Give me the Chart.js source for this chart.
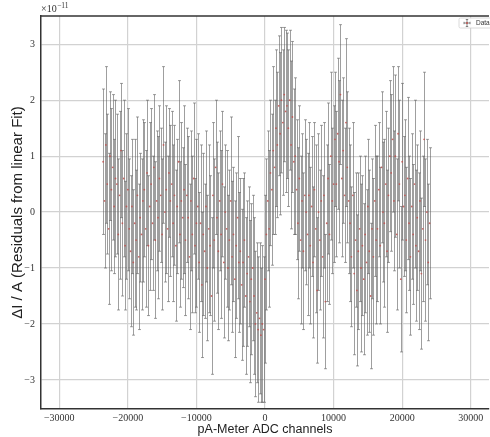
<!DOCTYPE html>
<html>
<head>
<meta charset="utf-8">
<script src="https://cdn.jsdelivr.net/npm/chart.js@4/dist/chart.umd.min.js"></script>
<style>
  html, body { margin: 0; padding: 0; background: #fff; overflow: hidden; width: 490px; height: 437px; }
  #wrap { width: 493px; height: 437px; }
</style>
</head>
<body>
<div id="wrap"><canvas id="grafico" width="493" height="437"></canvas></div>
<script>
// canales del ADC
const canales = [
  -23600,-23400,-23200,-23000,-22800,-22600,-22400,-22200,-22000,-21800,
  -21600,-21400,-21200,-21000,-20800,-20600,-20400,-20200,-20000,-19800,
  -19600,-19400,-19200,-19000,-18800,-18600,-18400,-18200,-18000,-17800,
  -17600,-17400,-17200,-17000,-16800,-16600,-16400,-16200,-16000,-15800,
  -15600,-15400,-15200,-15000,-14800,-14600,-14400,-14200,-14000,-13800,
  -13600,-13400,-13200,-13000,-12800,-12600,-12400,-12200,-12000,-11800,
  -11600,-11400,-11200,-11000,-10800,-10600,-10400,-10200,-10000,-9800,
  -9600,-9400,-9200,-9000,-8800,-8600,-8400,-8200,-8000,-7800,
  -7600,-7400,-7200,-7000,-6800,-6600,-6400,-6200,-6000,-5800,
  -5600,-5400,-5200,-5000,-4800,-4600,-4400,-4200,-4000,-3800,
  -3600,-3400,-3200,-3000,-2800,-2600,-2400,-2200,-2000,-1800,
  -1600,-1400,-1200,-1000,-800,-600,-400,-200,0,200,
  400,600,800,1000,1200,1400,1600,1800,2000,2200,
  2400,2600,2800,3000,3200,3400,3600,3800,4000,4200,
  4400,4600,4800,5000,5200,5400,5600,5800,6000,6200,
  6400,6600,6800,7000,7200,7400,7600,7800,8000,8200,
  8400,8600,8800,9000,9200,9400,9600,9800,10000,10200,
  10400,10600,10800,11000,11200,11400,11600,11800,12000,12200,
  12400,12600,12800,13000,13200,13400,13600,13800,14000,14200,
  14400,14600,14800,15000,15200,15400,15600,15800,16000,16200,
  16400,16600,16800,17000,17200,17400,17600,17800,18000,18200,
  18400,18600,18800,19000,19200,19400,19600,19800,20000,20200,
  20400,20600,20800,21000,21200,21400,21600,21800,22000,22200,
  22400,22600,22800,23000,23200,23400,23600,23800,24000
];

// residuos (x 1e-11)
const residuos = [
  0.9,0.2,1.2,0.5,-0.3,1.0,0.4,0.8,0.1,0.6,
  0.5,-0.4,0.3,1.1,-0.2,0.6,-0.6,0.1,0.4,-0.3,
  -0.7,0.1,-0.9,-0.2,-0.5,0.3,-0.8,-0.1,-0.4,0.2,
  0.4,-0.3,0.7,-0.6,0.1,0.5,-0.2,0.8,-0.5,0.2,
  -0.1,0.6,0.3,-0.4,1.2,0.0,0.4,-0.3,0.7,0.2,
  0.5,-0.2,0.3,-0.6,0.1,0.9,-0.4,0.2,-0.1,0.4,
  -0.5,0.3,-0.1,-0.8,0.2,-0.4,0.6,-0.6,-0.2,0.1,
  -0.9,-0.2,-1.3,-0.4,-0.7,0.1,-1.0,-0.3,-0.6,-1.5,
  0.3,-0.5,0.8,-0.1,-0.7,0.2,-0.4,0.5,-0.9,0.0,
  -0.3,-1.0,-0.5,0.2,-0.8,-0.4,-1.2,-0.6,-0.1,-0.9,
  -0.7,-1.3,-0.9,-0.5,-1.5,-1.1,-0.8,-1.6,-1.2,-1.0,
  -1.5,-2.0,-1.8,-2.1,-1.9,-2.2,-2.0,-2.1,-1.2,-0.4,
  0.2,-0.3,0.7,0.4,1.1,0.8,1.5,1.2,1.9,1.4,
  2.0,1.6,2.1,1.8,1.9,1.5,2.0,1.2,1.7,0.9,
  1.0,0.4,-0.2,0.6,-0.5,0.2,-0.7,0.3,0.0,-0.4,
  0.3,-0.6,0.1,-0.9,0.4,-0.3,-1.4,0.0,-0.5,0.2,
  -0.8,0.3,-1.6,-0.2,0.6,-0.4,1.0,0.2,0.5,1.3,
  0.5,1.4,0.9,2.1,0.6,1.1,0.3,1.6,0.8,0.2,
  -0.2,-0.8,0.3,-1.1,-0.5,-1.4,-0.7,-0.3,-1.0,-0.6,
  -1.2,-0.4,-0.9,0.1,-0.7,-1.5,-0.3,-0.8,0.2,-0.5,
  -0.3,0.4,-0.6,0.8,0.0,-0.2,0.5,-0.7,0.3,1.0,
  0.7,1.3,0.2,1.0,-0.4,1.4,0.5,-1.2,0.9,0.1,
  0.3,-0.5,0.6,-0.2,-0.8,0.1,-0.4,0.5,-0.6,-0.1,
  -0.7,0.2,-1.1,-0.3,1.3,-0.5,0.0,-0.9,-0.2
];

// incertidumbres (x 1e-11)
const errores = [
  1.3,1.2,1.4,1.25,1.35,1.15,1.45,1.3,1.2,1.4,
  1.25,1.35,1.5,1.2,1.3,1.4,1.15,1.3,1.45,1.25,
  1.35,1.2,1.3,1.5,1.25,1.4,1.3,1.15,1.35,1.45,
  1.2,1.4,1.3,1.25,1.5,1.35,1.2,1.3,1.4,1.25,
  1.45,1.3,1.2,1.35,1.4,1.25,1.5,1.3,1.15,1.35,
  1.3,1.4,1.25,1.35,1.2,1.45,1.3,1.4,1.25,1.5,
  1.35,1.2,1.45,1.3,1.25,1.4,1.35,1.2,1.5,1.3,
  1.25,1.4,1.3,1.45,1.2,1.35,1.3,1.5,1.25,1.4,
  1.3,1.45,1.2,1.35,1.4,1.25,1.5,1.3,1.35,1.2,
  1.4,1.3,1.25,1.5,1.35,1.2,1.4,1.3,1.45,1.25,
  1.3,1.35,1.5,1.2,1.4,1.3,1.25,1.45,1.35,1.3,
  1.4,1.3,1.25,1.3,1.35,1.2,1.4,1.3,1.5,1.35,
  1.25,1.4,1.3,1.35,1.5,1.2,1.4,1.3,1.25,1.45,
  1.3,1.3,1.2,1.45,1.3,1.4,1.25,1.5,1.35,1.3,
  1.4,1.25,1.35,1.3,1.5,1.2,1.4,1.35,1.3,1.45,
  1.3,1.4,1.25,1.35,1.2,1.5,1.3,1.4,1.25,1.35,
  1.45,1.3,1.2,1.4,1.35,1.25,1.5,1.3,1.4,1.2,
  1.3,1.35,1.45,1.25,1.4,1.3,1.2,1.5,1.35,1.3,
  1.4,1.25,1.3,1.45,1.2,1.35,1.4,1.3,1.5,1.25,
  1.35,1.4,1.3,1.2,1.45,1.3,1.25,1.4,1.35,1.5,
  1.3,1.2,1.4,1.35,1.25,1.5,1.3,1.45,1.2,1.35,
  1.4,1.3,1.25,1.45,1.35,1.2,1.5,1.3,1.4,1.25,
  1.35,1.3,1.45,1.2,1.4,1.3,1.25,1.5,1.35,1.3,
  1.4,1.25,1.35,1.3,1.2,1.45,1.3,1.4,1.35
];

const ticksX = [-30000, -20000, -10000, 0, 10000, 20000, 30000];
const ticksY = [-3, -2, -1, 0, 1, 2, 3];

const fuenteSerif = "'Liberation Serif', 'DejaVu Serif', serif";
const fuenteSans = "'Liberation Sans', 'DejaVu Sans', sans-serif";

// barras de error, marco superior, exponente y leyenda
const pluginErrores = {
    id: 'barrasError',
    beforeDatasetsDraw(chart) {
        const ctx = chart.ctx;
        const area = chart.chartArea;
        const sx = chart.scales.x;
        const sy = chart.scales.y;
        ctx.save();
        ctx.beginPath();
        ctx.rect(area.left, area.top, area.right - area.left, area.bottom - area.top);
        ctx.clip();
        ctx.strokeStyle = 'rgba(95,95,95,0.6)';
        ctx.lineWidth = 1;
        for (let i = 0; i < canales.length; i++) {
            // linea nitida: centrar en el pixel
            const px = Math.round(sx.getPixelForValue(canales[i])) + 0.5;
            const top = sy.getPixelForValue(residuos[i] + errores[i]);
            const bot = sy.getPixelForValue(residuos[i] - errores[i]);
            ctx.beginPath();
            ctx.moveTo(px, top);
            ctx.lineTo(px, bot);
            ctx.moveTo(px - 1.5, top);
            ctx.lineTo(px + 1.5, top);
            ctx.moveTo(px - 1.5, bot);
            ctx.lineTo(px + 1.5, bot);
            ctx.stroke();
        }
        ctx.restore();
    },
    afterDraw(chart) {
        const ctx = chart.ctx;
        const area = chart.chartArea;
        ctx.save();
        // marco superior
        ctx.strokeStyle = '#333';
        ctx.lineWidth = 1.5;
        ctx.beginPath();
        ctx.moveTo(area.left, area.top);
        ctx.lineTo(area.right, area.top);
        ctx.stroke();

        // exponente
        ctx.fillStyle = '#333';
        ctx.textBaseline = 'alphabetic';
        ctx.textAlign = 'left';
        ctx.font = '10px ' + fuenteSerif;
        ctx.fillText('×10', area.left, 12);
        const w = ctx.measureText('×10').width;
        ctx.font = '7.5px ' + fuenteSerif;
        ctx.fillText('−11', area.left + w + 0.5, 8);

        // leyenda
        const lx = 459, ly = 18;
        ctx.fillStyle = 'rgba(255,255,255,0.9)';
        ctx.strokeStyle = '#d0d0d0';
        ctx.lineWidth = 0.8;
        ctx.beginPath();
        ctx.roundRect(lx, ly, 36, 10, 1.5);
        ctx.fill();
        ctx.stroke();
        ctx.strokeStyle = '#666';
        ctx.lineWidth = 0.8;
        ctx.beginPath();
        ctx.moveTo(467, 19.5); ctx.lineTo(467, 26.5);
        ctx.moveTo(464, 23); ctx.lineTo(470, 23);
        ctx.moveTo(465.8, 19.5); ctx.lineTo(468.2, 19.5);
        ctx.moveTo(465.8, 26.5); ctx.lineTo(468.2, 26.5);
        ctx.moveTo(464, 21.8); ctx.lineTo(464, 24.2);
        ctx.moveTo(470, 21.8); ctx.lineTo(470, 24.2);
        ctx.stroke();
        ctx.fillStyle = '#c0504d';
        ctx.beginPath();
        ctx.arc(467, 23, 1, 0, Math.PI * 2);
        ctx.fill();
        ctx.fillStyle = '#333';
        ctx.font = '6.5px ' + fuenteSans;
        ctx.textBaseline = 'middle';
        ctx.fillText('Data', 476, 23.3);
        ctx.restore();
    }
};

const formatoMenos = v => (v < 0 ? '−' + Math.abs(v) : String(v));

new Chart(document.getElementById('grafico'), {
    type: 'scatter',
    data: {
        datasets: [{
            label: 'Data',
            data: canales.map((x, i) => ({ x: x, y: residuos[i] })),
            backgroundColor: 'rgba(192,80,77,0.85)',
            borderColor: 'rgba(192,80,77,0.85)',
            pointRadius: 0.9,
            borderWidth: 0
        }]
    },
    options: {
        responsive: false,
        animation: false,
        devicePixelRatio: 1,
        layout: { padding: { top: 16, left: 0, right: 0, bottom: 0 } },
        plugins: {
            legend: { display: false },
            tooltip: { enabled: false }
        },
        scales: {
            x: {
                type: 'linear',
                min: -32660,
                max: 32660,
                afterBuildTicks: s => { s.ticks = ticksX.map(v => ({ value: v })); },
                afterFit: s => { s.height = 28; },
                grid: { color: '#d2d2d2', lineWidth: 1.2, drawTicks: false },
                border: { color: '#333', width: 1.5 },
                ticks: {
                    color: '#333',
                    padding: 3,
                    maxRotation: 0,
                    font: { family: fuenteSerif, size: 10 },
                    callback: formatoMenos
                },
                title: {
                    display: true,
                    text: 'pA-Meter ADC channels',
                    color: '#222',
                    font: { family: fuenteSans, size: 12.5 },
                    padding: { top: 0, bottom: 0 }
                }
            },
            y: {
                min: -3.52,
                max: 3.505,
                afterBuildTicks: s => { s.ticks = ticksY.map(v => ({ value: v })); },
                afterFit: s => { s.width = 41; },
                grid: { color: '#d2d2d2', lineWidth: 1.2, drawTicks: false },
                border: { color: '#333', width: 1.5 },
                ticks: {
                    color: '#333',
                    padding: 6,
                    font: { family: fuenteSerif, size: 10 },
                    callback: formatoMenos
                },
                title: {
                    display: true,
                    text: 'ΔI / A (Residuals from linear Fit)',
                    color: '#222',
                    font: { family: fuenteSans, size: 15 },
                    padding: { top: 9, bottom: 0 }
                }
            }
        }
    },
    plugins: [pluginErrores]
});
</script>
</body>
</html>
